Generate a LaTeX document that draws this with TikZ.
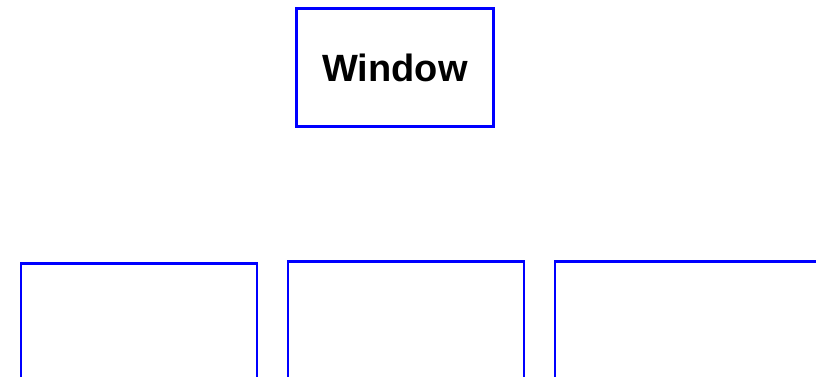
\documentclass[tikz,border=0pt]{standalone}
\usepackage{fontspec}
\setmainfont{Liberation Sans}
\begin{document}
\begin{tikzpicture}[x=1pt,y=-1pt,
  box/.style={draw=blue,line width=2.2pt,fill=white,inner sep=0pt,rectangle},
  lbl/.style={font=\bfseries\fontsize{38}{44}\selectfont}]
\useasboundingbox (0,0) rectangle (816,377);
\clip (0,0) rectangle (816,377);
\node[box,minimum width=197pt,minimum height=118pt,lbl] (window) at (395,67.5) {Window};
\node[box,minimum width=236pt,minimum height=200pt] (left) at (139,363.5) {};
\node[box,minimum width=236pt,minimum height=200pt] (middle) at (406,361.5) {};
\node[box,minimum width=300pt,minimum height=200pt] (right) at (705,361.5) {};
\end{tikzpicture}
\end{document}
